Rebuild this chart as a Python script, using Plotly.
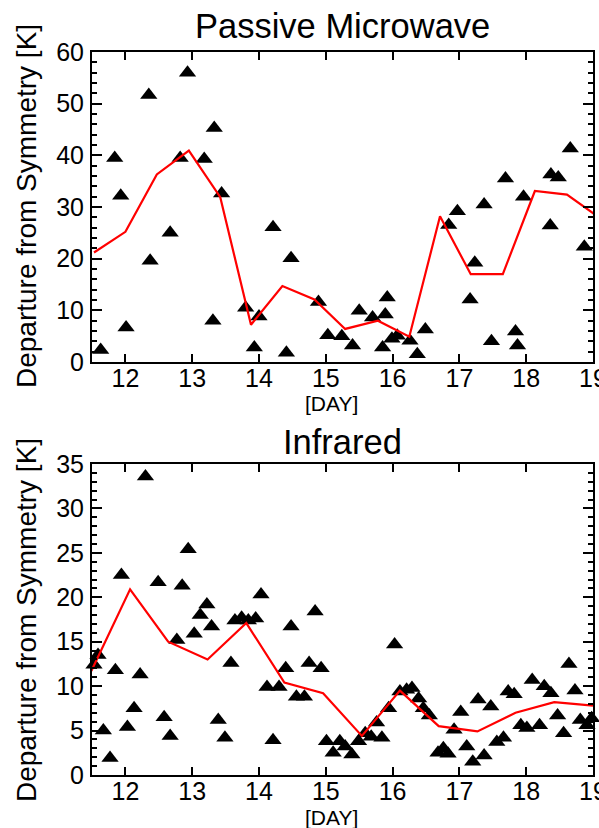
import plotly.graph_objects as go

# ---------------- data ----------------
pm_day = [11.63, 11.84, 11.93, 12.01, 12.35, 12.37, 12.67, 12.82, 12.93, 13.18,
          13.33, 13.31, 13.44, 13.80, 13.93, 14.00, 14.21, 14.48, 14.41, 14.89,
          15.03, 15.24, 15.40, 15.50, 15.70, 15.89, 15.92, 15.85, 15.99, 16.07,
          16.26, 16.37, 16.49, 16.84, 16.97, 17.23, 17.16, 17.37, 17.48, 17.69,
          17.84, 17.87, 17.96, 18.36, 18.37, 18.48, 18.66, 18.87]
pm_val = [2.3, 39.5, 32.2, 6.7, 51.7, 19.6, 25.0, 39.5, 56.0, 39.3,
          45.3, 8.0, 32.6, 10.5, 2.8, 8.8, 26.1, 20.1, 1.8, 11.6,
          5.2, 5.0, 3.2, 9.9, 8.6, 9.2, 12.5, 2.8, 4.5, 5.1,
          4.1, 1.5, 6.3, 26.5, 29.2, 19.2, 12.1, 30.5, 4.0, 35.5,
          5.9, 3.2, 32.0, 26.4, 36.3, 35.7, 41.3, 22.3]

pm_mean_day = [11.53, 12.00, 12.47, 12.95, 13.42, 13.88, 14.35, 14.83, 15.29,
               15.78, 16.25, 16.71, 17.17, 17.65, 18.13, 18.61, 19.08]
pm_mean_val = [21.2, 25.2, 36.3, 40.9, 31.9, 7.2, 14.7, 12.1, 6.4,
               8.0, 4.9, 28.2, 17.0, 17.0, 33.1, 32.4, 28.1]

ir_day = [11.53, 11.59, 11.67, 11.77, 11.85, 11.94, 12.03, 12.13, 12.22, 12.30,
          12.49, 12.58, 12.67, 12.77, 12.85, 12.94, 13.03, 13.12, 13.22, 13.29,
          13.39, 13.49, 13.58, 13.64, 13.74, 13.84, 13.95, 14.03, 14.12, 14.21,
          14.30, 14.40, 14.48, 14.56, 14.68, 14.75, 14.84, 14.93, 15.01, 15.11,
          15.21, 15.29, 15.39, 15.49, 15.59, 15.68, 15.76, 15.84, 15.94, 16.03,
          16.11, 16.21, 16.29, 16.39, 16.46, 16.55, 16.68, 16.76, 16.83, 16.92,
          17.02, 17.11, 17.20, 17.28, 17.37, 17.47, 17.56, 17.66, 17.73, 17.82,
          17.92, 18.01, 18.09, 18.20, 18.27, 18.37, 18.47, 18.56, 18.64, 18.73,
          18.81, 18.91, 18.98]
ir_val = [12.4, 13.5, 5.0, 1.9, 11.8, 22.5, 5.4, 7.5, 11.3, 33.6,
          21.7, 6.5, 4.4, 15.2, 21.3, 25.4, 15.9, 18.0, 19.2, 16.7,
          6.2, 4.2, 12.6, 17.4, 17.7, 17.4, 17.6, 20.3, 9.9, 3.9,
          9.9, 12.0, 16.7, 8.8, 8.8, 12.6, 18.4, 12.0, 3.8, 2.5,
          3.8, 3.2, 2.3, 3.8, 4.7, 4.3, 5.9, 4.2, 7.5, 14.7,
          9.4, 9.6, 9.8, 8.6, 7.5, 6.7, 2.5, 3.0, 2.4, 5.1,
          7.1, 3.2, 1.5, 8.5, 2.2, 7.7, 3.7, 4.2, 9.4, 9.1,
          5.6, 5.3, 10.7, 5.6, 10.0, 9.2, 6.7, 4.7, 12.5, 9.5,
          6.2, 5.6, 6.4]

ir_mean_day = [11.49, 12.07, 12.64, 13.23, 13.81, 14.38, 14.96, 15.54, 16.11,
               16.69, 17.27, 17.84, 18.42, 19.00]
ir_mean_val = [11.7, 20.9, 15.0, 13.0, 17.1, 10.4, 9.2, 4.4, 9.5,
               5.5, 4.9, 7.0, 8.2, 7.8]

x_ticks = [12, 13, 14, 15, 16, 17, 18, 19]
pm_yticks = [0, 10, 20, 30, 40, 50, 60]
ir_yticks = [0, 5, 10, 15, 20, 25, 30, 35]

panel_titles = ["Passive Microwave", "Infrared"]
y_title = "Departure from Symmetry [K]"
x_title = "[DAY]"

# ---------------- figure ----------------
W, H = 599, 828
FONT = "Liberation Sans, Arial, sans-serif"

fig = go.Figure()
mk = dict(symbol="triangle-up", size=15, color="black", line=dict(width=0))

fig.add_trace(go.Scatter(x=pm_day, y=pm_val, mode="markers", marker=mk,
                         xaxis="x", yaxis="y", showlegend=False, cliponaxis=False))
fig.add_trace(go.Scatter(x=pm_mean_day, y=pm_mean_val, mode="lines",
                         line=dict(color="red", width=2.2),
                         xaxis="x", yaxis="y", showlegend=False))
fig.add_trace(go.Scatter(x=ir_day, y=ir_val, mode="markers", marker=mk,
                         xaxis="x2", yaxis="y2", showlegend=False, cliponaxis=False))
fig.add_trace(go.Scatter(x=ir_mean_day, y=ir_mean_val, mode="lines",
                         line=dict(color="red", width=2.2),
                         xaxis="x2", yaxis="y2", showlegend=False))

xdom = [92 / W, 593 / W]
top_dom = [1 - 362 / H, 1 - 52 / H]
bot_dom = [1 - 775 / H, 1 - 464 / H]

def xax(anchor):
    return dict(domain=xdom, anchor=anchor, range=[11.5, 19.0001], tickvals=x_ticks,
                ticks="inside", ticklen=8, tickwidth=2, tickcolor="black",
                showline=True, linewidth=2, linecolor="black", mirror="allticks",
                showgrid=False, zeroline=False, automargin=False,
                ticklabeloverflow="allow",
                tickfont=dict(family=FONT, size=25, color="black"),
                ticklabelstandoff=-7)

def yax(anchor, dom, rng, tv, minor_step):
    return dict(domain=dom, anchor=anchor, range=rng, tickvals=tv,
                ticks="inside", ticklen=10, tickwidth=2, tickcolor="black",
                minor=dict(dtick=minor_step, ticks="inside", ticklen=5,
                           tickwidth=2, tickcolor="black", showgrid=False),
                showline=True, linewidth=2, linecolor="black", mirror="allticks",
                showgrid=False, zeroline=False, automargin=False,
                ticklabeloverflow="allow",
                tickfont=dict(family=FONT, size=25, color="black"),
                ticklabelstandoff=1)

fig.update_layout(
    width=W, height=H, margin=dict(l=0, r=0, t=0, b=0, autoexpand=False),
    paper_bgcolor="white", plot_bgcolor="white",
    xaxis=xax("y"), yaxis=yax("x", top_dom, [0, 60], pm_yticks, 2),
    xaxis2=xax("y2"), yaxis2=yax("x2", bot_dom, [0, 35], ir_yticks, 1),
    font=dict(family=FONT, color="black"),
)

ann = []
cx = (92 + 593) / 2 / W
ann.append(dict(text=panel_titles[0], x=cx, y=1 - 26 / H, xref="paper", yref="paper",
                showarrow=False, xanchor="center", yanchor="middle",
                font=dict(family=FONT, size=34.5, color="black")))
ann.append(dict(text=panel_titles[1], x=cx, y=1 - 442 / H, xref="paper", yref="paper",
                showarrow=False, xanchor="center", yanchor="middle",
                font=dict(family=FONT, size=34.5, color="black")))
for yc in (404, 817):
    ann.append(dict(text=x_title, x=331 / W, y=1 - yc / H, xref="paper", yref="paper",
                    showarrow=False, xanchor="center", yanchor="middle",
                    font=dict(family=FONT, size=21, color="black")))
for yc in (206, 620):
    ann.append(dict(text=y_title, x=26 / W, y=1 - yc / H, xref="paper", yref="paper",
                    showarrow=False, xanchor="center", yanchor="middle", textangle=-90,
                    font=dict(family=FONT, size=28, color="black")))
fig.update_layout(annotations=ann)

fig.write_html("out.html")
